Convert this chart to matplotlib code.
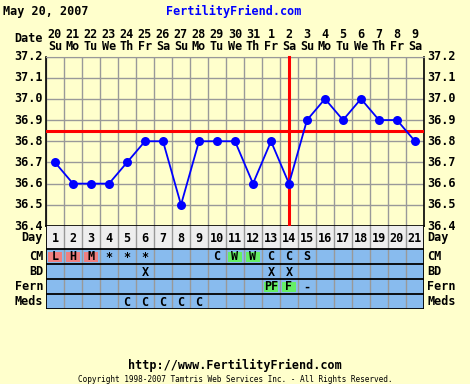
import matplotlib
matplotlib.use("Agg")
import matplotlib.pyplot as plt
from matplotlib.patches import Rectangle
from matplotlib.transforms import blended_transform_factory as blend

days = list(range(1, 22))
dates = ["20","21","22","23","24","25","26","27","28","29","30","31","1","2","3","4","5","6","7","8","9"]
weekdays = ["Su","Mo","Tu","We","Th","Fr","Sa","Su","Mo","Tu","We","Th","Fr","Sa","Su","Mo","Tu","We","Th","Fr","Sa"]
temps = [36.7,36.6,36.6,36.6,36.7,36.8,36.8,36.5,36.8,36.8,36.8,36.6,36.8,36.6,36.9,37.0,36.9,37.0,36.9,36.9,36.8]
coverline = 36.85
ovulation_day = 14
yticks = [36.4,36.5,36.6,36.7,36.8,36.9,37.0,37.1,37.2]
cm = ["L","H","M","*","*","*","","","","C","W","W","C","C","S","","","","","",""]
bd = ["","","","","","X","","","","","","","X","X","","","","","","",""]
fern = ["","","","","","","","","","","","","PF","F","-","","","","","",""]
meds = ["","","","","C","C","C","C","C","","","","","","","","","","","",""]
hl_pink = {"L","H","M"}
hl_green_cm = {"W"}
hl_green_fern = {"PF","F"}

BG = "#FFFFCC"
BLUE = "#88BBEE"
GRAY = "#999999"
FONT = "DejaVu Sans Mono"
FS = 8.5

W, H = 470, 384
fig = plt.figure(figsize=(W/100, H/100), dpi=100, facecolor=BG)

# overlay in pixel coords
ov = fig.add_axes([0, 0, 1, 1], zorder=0)
ov.set_xlim(0, W); ov.set_ylim(H, 0); ov.axis("off")

L, R, T, B = 46, 424, 56.5, 226
ax = fig.add_axes([L/W, 1-B/H, (R-L)/W, (B-T)/H], zorder=2)
ax.set_facecolor(BG)
ax.set_xlim(0.5, 21.5)
ax.set_ylim(36.4, 37.2)
for d in range(0, 22):
    ax.axvline(d+0.5, color=GRAY, lw=1, zorder=1)
for yv in yticks:
    ax.axhline(yv, color=GRAY, lw=1, zorder=1)
ax.set_xticks([]); ax.set_yticks([])
ax.spines["top"].set_color(GRAY)
for s in ["left","right","bottom"]:
    ax.spines[s].set_color("black")
    ax.spines[s].set_linewidth(1.2)
ax.axhline(coverline, color="red", lw=2.2, zorder=3)
ax.axvline(ovulation_day, color="red", lw=2.2, zorder=3, clip_on=False)
ax.plot(days, temps, color="blue", lw=1.3, marker="o", ms=6.5, mew=0, zorder=4)

# y labels
yl = blend(ov.transData, ax.transData)
for yv in yticks:
    ov.text(43, yv, f"{yv:.1f}", transform=yl, ha="right", va="center",
            family=FONT, weight="bold", fontsize=FS)
    ov.text(427, yv, f"{yv:.1f}", transform=yl, ha="left", va="center",
            family=FONT, weight="bold", fontsize=FS)

# date labels
xt = blend(ax.transData, ov.transData)
for d, dt, wd in zip(days, dates, weekdays):
    ov.text(d, 34, dt, transform=xt, ha="center", va="center",
            family=FONT, weight="bold", fontsize=FS)
    ov.text(d, 46, wd, transform=xt, ha="center", va="center",
            family=FONT, weight="bold", fontsize=FS)
ov.text(43, 39, "Date", ha="right", va="center", family=FONT, weight="bold", fontsize=FS)

# table
TB = 309
tb = fig.add_axes([L/W, 1-TB/H, (R-L)/W, (TB-B)/H], zorder=2)
tb.set_xlim(0.5, 21.5)
tb.set_ylim(TB, B)
tb.axis("off")
rows = [("Day", B, 249), ("CM", 249, 264), ("BD", 264, 279), ("Fern", 279, 294), ("Meds", 294, 309)]
tb.add_patch(Rectangle((0.5, B), 21, 249-B, facecolor="#EEEEEE", edgecolor="none", zorder=0))
tb.add_patch(Rectangle((0.5, 249), 21, TB-249, facecolor=BLUE, edgecolor="none", zorder=0))
for d in range(1, 21):
    tb.plot([d+0.5, d+0.5], [B, TB], color=GRAY, lw=1, zorder=1)
for name, y0, y1 in rows:
    tb.plot([0.5, 21.5], [y1, y1], color="black", lw=1.3, zorder=2)
    yc = (y0+y1)/2
    ov.text(43, yc, name, ha="right", va="center", family=FONT, weight="bold", fontsize=FS)
    ov.text(427, yc, name, ha="left", va="center", family=FONT, weight="bold", fontsize=FS)
tb.plot([0.5, 0.5], [B, TB], color="black", lw=1.3, zorder=2)
tb.plot([21.5, 21.5], [B, TB], color="black", lw=1.3, zorder=2)

for d in days:
    tb.text(d, (B+249)/2+0.5, str(d), ha="center", va="center",
            family=FONT, weight="bold", fontsize=FS, zorder=3)

def fill_row(vals, y0, y1, greens=set(), pinks=set()):
    for d, v in zip(days, vals):
        if not v:
            continue
        if v in pinks or v in greens:
            col = "#F08080" if v in pinks else "#66EE66"
            tb.add_patch(Rectangle((d-0.5+2/18, y0+2.5), 1-4/18, (y1-y0)-4.5,
                                   facecolor=col, edgecolor="none", zorder=2))
        tb.text(d, (y0+y1)/2+0.5, v, ha="center", va="center",
                family=FONT, weight="bold", fontsize=FS, zorder=3)

fill_row(cm, 249, 264, greens=hl_green_cm, pinks=hl_pink)
fill_row(bd, 264, 279)
fill_row(fern, 279, 294, greens=hl_green_fern)
fill_row(meds, 294, 309)

# titles
ov.text(3, 11, "May 20, 2007", ha="left", va="center", family=FONT, weight="bold", fontsize=FS)
ov.text(234, 11, "FertilityFriend.com", ha="center", va="center", family=FONT,
        weight="bold", fontsize=FS, color="#0000FF")
ov.text(235, 365, "http://www.FertilityFriend.com", ha="center", va="center",
        family=FONT, weight="bold", fontsize=FS)
ov.text(235, 380, "Copyright 1998-2007 Tamtris Web Services Inc. - All Rights Reserved.",
        ha="center", va="center", family=FONT, fontsize=5.6)

fig.savefig("out.png", dpi=100, facecolor=BG)
